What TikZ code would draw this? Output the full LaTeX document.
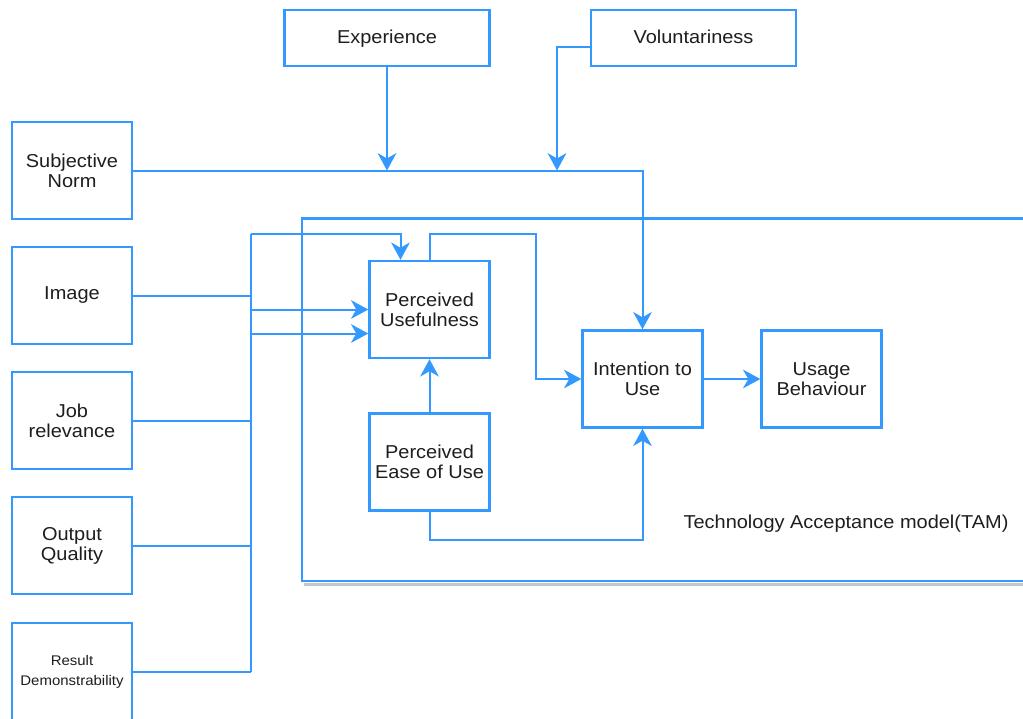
\documentclass[tikz,border=0pt]{standalone}
\usepackage{fontspec}
\setmainfont{Liberation Sans}[FakeStretch=1.07]
\usetikzlibrary{arrows.meta}
\definecolor{edge}{RGB}{51,153,255}
\definecolor{ink}{RGB}{30,30,30}
\tikzset{
  box/.style={draw=edge, line width=1.8pt, fill=white, inner sep=2pt, align=center,
    text=ink, font=\fontsize{14}{15}\selectfont,
    minimum width=90pt, minimum height=72.75pt},
  widebox/.style={box, minimum width=153.75pt, minimum height=42pt,
    text height=11pt, text depth=2.4pt},
  link/.style={draw=edge, line width=1.5pt},
  arr/.style={link, -{Stealth[length=13pt, width=14pt, inset=4pt]}},
  tamframe/.style={draw=edge, line width=1.6pt},
}
\begin{document}
\begin{tikzpicture}[x=0.75pt, y=-0.75pt]
\useasboundingbox (0,0) rectangle (1023,718);

% TAM frame with its shadow
\draw[gray!45, line width=2pt] (304,584.5) -- (1023,584.5);
\draw[tamframe] (1023,218.5) -- (302,218.5) -- (302,581) -- (1023,581);
\node[text=ink, font=\fontsize{14}{15}\selectfont] (tamlbl) at (846,524) {Technology Acceptance model(TAM)};

% moderators
\node[widebox] (exp) at (387,38) {Experience};
\node[widebox] (vol) at (693.5,38) {Voluntariness};

% external variables
\node[box] (sn)  at (72,170.5) {Subjective\\Norm};
\node[box] (img) at (72,295.5) {Image};
\node[box] (jr)  at (72,420.5) {Job\\relevance};
\node[box] (oq)  at (72,545.5) {Output\\Quality};
\node[box, font=\fontsize{10.5}{15}\selectfont] (rd) at (72,671.5) {Result\\Demonstrability};

% core TAM constructs
\node[box] (pu)   at (429.5,309.5) {Perceived\\Usefulness};
\node[box] (peou) at (429.5,462)   {Perceived\\Ease of Use};
\node[box] (itu)  at (642.5,379)   {Intention to\\Use};
\node[box] (ub)   at (821.5,379)   {Usage\\Behaviour};

% routing points
\coordinate (btop) at (250.5,233.5);
\coordinate (bbot) at (250.5,671.5);
\coordinate (vdrop) at (557,170.5);
\coordinate (jt) at (536,233.5);
\coordinate (pu2) at ([yshift=-18pt]pu.west);

% subjective norm with moderators
\draw[arr] (sn.east) -| (itu.north);
\draw[arr] (exp.south) -- (exp.south |- sn.east);
\draw[arr] ([yshift=-6.5pt]vol.west) -| (vdrop);

% bus collecting the external variables
\draw[link] (btop) -- (bbot);
\draw[link] (img.east) -- (img.east -| btop);
\draw[link] (jr.east) -- (jr.east -| btop);
\draw[link] (oq.east) -- (oq.east -| btop);
\draw[link] (rd.east) -- (rd.east -| btop);
\draw[arr] (btop) -| ([xshift=-21.75pt]pu.north);
\draw[arr] (pu.west -| btop) -- (pu.west);
\draw[arr] (pu2 -| btop) -- (pu2);

% TAM relations
\draw[arr] (pu.north) |- (jt) |- (itu.west);
\draw[arr] (peou.north) -- (pu.south);
\draw[arr] (peou.south) -- ++(0,28) -| (itu.south);
\draw[arr] (itu.east) -- (ub.west);
\end{tikzpicture}
\end{document}
